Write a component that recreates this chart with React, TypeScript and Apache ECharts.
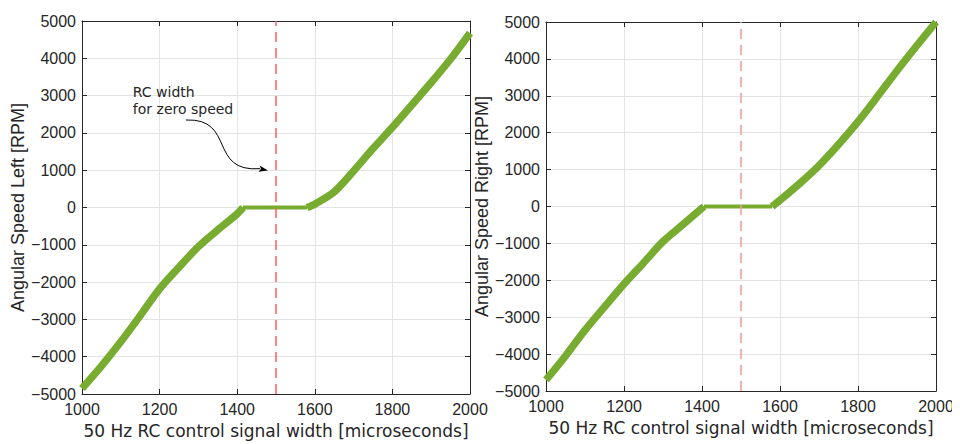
import React, { useEffect, useRef } from "react";
import * as echarts from "echarts";

// Left motor: signal width (µs) vs angular speed (RPM)
const leftNegX = [1000, 1050, 1100, 1150, 1200, 1250, 1300, 1350, 1400, 1415];
const leftNegY = [-4850, -4250, -3600, -2900, -2180, -1600, -1050, -600, -170, 0];
const leftFlatX = [1415, 1580];
const leftFlatY = [0, 0];
const leftPosX = [1580, 1600, 1650, 1700, 1750, 1800, 1850, 1900, 1950, 2000];
const leftPosY = [0, 90, 420, 980, 1580, 2150, 2750, 3350, 3980, 4680];

// Right motor
const rightNegX = [1000, 1050, 1100, 1150, 1200, 1250, 1300, 1350, 1405];
const rightNegY = [-4700, -4050, -3350, -2720, -2100, -1530, -950, -500, 0];
const rightFlatX = [1405, 1580];
const rightFlatY = [0, 0];
const rightPosX = [1580, 1600, 1650, 1700, 1750, 1800, 1850, 1900, 1950, 2000];
const rightPosY = [0, 170, 620, 1110, 1680, 2300, 2980, 3680, 4350, 5000];

const zeroSpeedWidth = 1500;
const xTicks = [1000, 1200, 1400, 1600, 1800, 2000];
const yTicks = [-5000, -4000, -3000, -2000, -1000, 0, 1000, 2000, 3000, 4000, 5000];

const xTitle = "50 Hz RC control signal width [microseconds]";
const yTitles = ["Angular Speed Left [RPM]", "Angular Speed Right [RPM]"];
const annotationLines = ["RC width", "for zero speed"];
// annotation anchor points in data coordinates (left panel)
const annotationText = [1131, 3330];
const arrowStart = [1268, 2346];
const arrowEnd = [1479, 990];

const GREEN = "#77AC30";
const AXIS = "#262626";
const GRIDC = "#E3E3E3";
const TICKFONT = "'Liberation Sans', Arial, sans-serif";
const TITLEFONT = "'DejaVu Sans', Verdana, sans-serif";

const zip = (xs: number[], ys: number[]) => xs.map((x, i) => [x, ys[i]]);

export default function App() {
  const ref = useRef<HTMLDivElement>(null);
  useEffect(() => {
    if (!ref.current) return;
    const chart = echarts.init(ref.current, null, { renderer: "svg" });

    const grids = [
      { left: 82, top: 21, width: 388, height: 373 },
      { left: 546, top: 22, width: 390, height: 369 },
    ];

    const xMin = xTicks[0];
    const xMax = xTicks[xTicks.length - 1];
    const yMin = yTicks[0];
    const yMax = yTicks[yTicks.length - 1];

    const xAxes: any[] = [];
    const yAxes: any[] = [];
    [0, 1].forEach((g) => {
      xAxes.push({
        type: "value",
        gridIndex: g,
        min: xMin,
        max: xMax,
        interval: 200,
        position: "bottom",
        name: xTitle,
        nameLocation: "middle",
        nameGap: 28,
        nameTextStyle: { fontFamily: TITLEFONT, fontSize: 17, color: AXIS },
        axisLine: { show: true, onZero: false, lineStyle: { color: AXIS, width: 1 } },
        axisTick: { show: true, inside: true, length: 5, lineStyle: { color: AXIS } },
        axisLabel: {
          fontFamily: TICKFONT,
          fontSize: 16,
          color: AXIS,
          margin: 7,
          formatter: (v: number) => String(v),
        },
        splitLine: { show: true, lineStyle: { color: GRIDC, width: 1 } },
      });
      xAxes.push({
        type: "value",
        gridIndex: g,
        min: xMin,
        max: xMax,
        interval: 200,
        position: "top",
        axisLine: { show: true, onZero: false, lineStyle: { color: AXIS, width: 1 } },
        axisTick: { show: true, inside: true, length: 5, lineStyle: { color: AXIS } },
        axisLabel: { show: false },
        splitLine: { show: false },
      });
      yAxes.push({
        type: "value",
        gridIndex: g,
        min: yMin,
        max: yMax,
        interval: 1000,
        position: "left",
        name: yTitles[g],
        nameLocation: "middle",
        nameGap: 46,
        nameTextStyle: { fontFamily: TICKFONT, fontSize: 18, color: AXIS },
        axisLine: { show: true, onZero: false, lineStyle: { color: AXIS, width: 1 } },
        axisTick: { show: true, inside: true, length: 5, lineStyle: { color: AXIS } },
        axisLabel: {
          fontFamily: TICKFONT,
          fontSize: 16,
          color: AXIS,
          margin: 6,
          formatter: (v: number) => String(v).replace("-", "\u2212"),
        },
        splitLine: { show: true, lineStyle: { color: GRIDC, width: 1 } },
      });
      yAxes.push({
        type: "value",
        gridIndex: g,
        min: yMin,
        max: yMax,
        interval: 1000,
        position: "right",
        axisLine: { show: true, onZero: false, lineStyle: { color: AXIS, width: 1 } },
        axisTick: { show: true, inside: true, length: 5, lineStyle: { color: AXIS } },
        axisLabel: { show: false },
        splitLine: { show: false },
      });
    });

    const curve = (g: number, data: number[][], width: number, z = 3) => ({
      type: "line",
      xAxisIndex: g * 2,
      yAxisIndex: g * 2,
      data,
      symbol: "none",
      smooth: 0.3,
      lineStyle: { color: GREEN, width, join: "round" },
      z,
    });
    const dashed = (g: number, color: string) => ({
      type: "line",
      xAxisIndex: g * 2,
      yAxisIndex: g * 2,
      data: [
        [zeroSpeedWidth, yMin],
        [zeroSpeedWidth, yMax],
      ],
      symbol: "none",
      lineStyle: { color, width: 1.5, type: [10, 6] },
      z: 4,
    });

    chart.setOption({
      animation: false,
      grid: grids,
      xAxis: xAxes,
      yAxis: yAxes,
      series: [
        curve(0, zip(leftNegX, leftNegY), 7.5),
        curve(0, zip(leftFlatX, leftFlatY), 4),
        curve(0, zip(leftPosX, leftPosY), 7.5),
        dashed(0, "#FF5E5E"),
        curve(1, zip(rightNegX, rightNegY), 7.5),
        curve(1, zip(rightFlatX, rightFlatY), 4),
        curve(1, zip(rightPosX, rightPosY), 7.5),
        dashed(1, "#F49A9A"),
      ],
    });

    const px = (p: number[]) =>
      chart.convertToPixel({ xAxisIndex: 0, yAxisIndex: 0 }, p) as number[];
    const t = px(annotationText);
    const s = px(arrowStart);
    const e = px(arrowEnd);
    // arrow head direction
    const ang = Math.atan2(3, 14);
    const hl = 9;
    const hw = 3.2;
    const dx = Math.cos(ang);
    const dy = Math.sin(ang);
    const base = [e[0] - dx * hl, e[1] - dy * hl];
    chart.setOption({
      graphic: [
        {
          type: "text",
          x: t[0],
          y: t[1],
          style: {
            text: annotationLines.join("\n"),
            font: `14px ${TITLEFONT}`,
            fill: AXIS,
            lineHeight: 17,
            align: "left",
            verticalAlign: "top",
          },
          z: 10,
        },
        {
          type: "bezierCurve",
          shape: {
            x1: s[0],
            y1: s[1],
            cpx1: s[0] + 50,
            cpy1: s[1] - 2,
            cpx2: s[0] + 22,
            cpy2: e[1] + 2,
            x2: base[0] + 1,
            y2: base[1],
          },
          style: { stroke: "#000", lineWidth: 1, fill: "none" },
          z: 10,
        },
        {
          type: "polygon",
          shape: {
            points: [
              [e[0], e[1]],
              [base[0] - dy * hw, base[1] + dx * hw],
              [base[0] + dx * 2, base[1] + dy * 2],
              [base[0] + dy * hw, base[1] - dx * hw],
            ],
          },
          style: { fill: "#000" },
          z: 10,
        },
      ],
    });

    return () => chart.dispose();
  }, []);
  return <div ref={ref} style={{ width: 960, height: 444, marginLeft: -8, marginTop: -8 }} />;
}
